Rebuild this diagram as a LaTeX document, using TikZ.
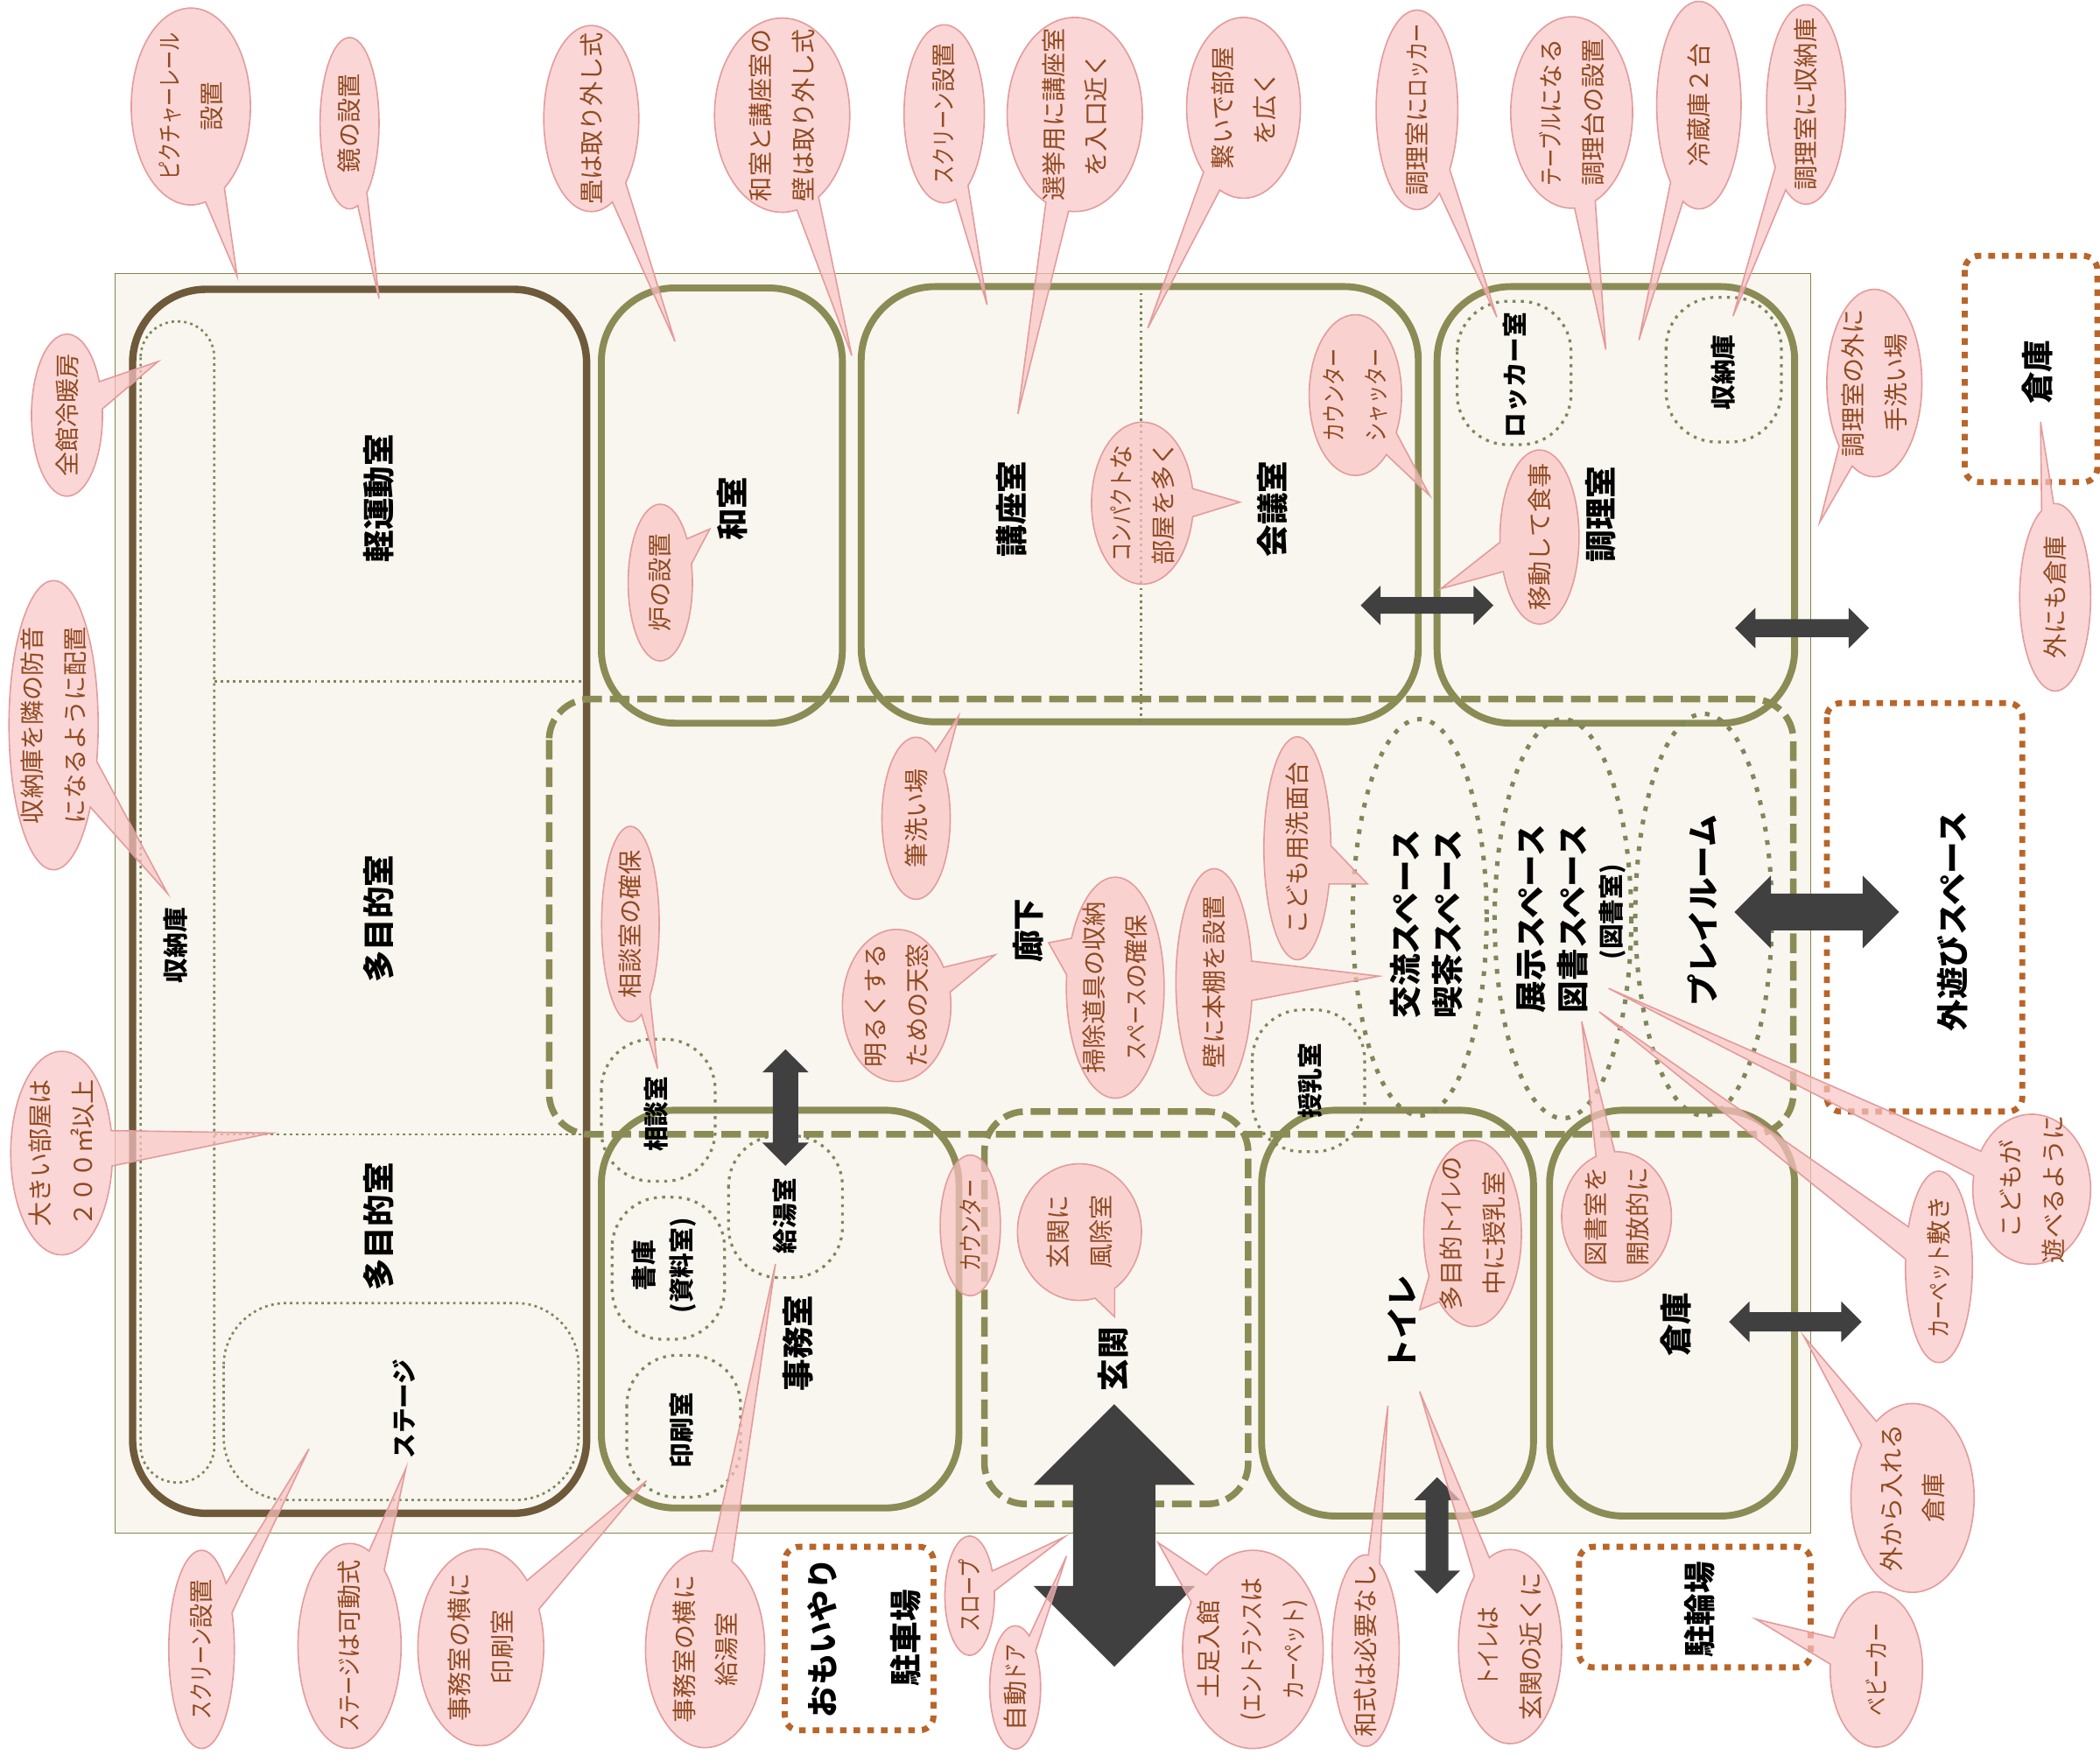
\documentclass[tikz,border=0pt]{standalone}
\usepackage{fontspec}
\setmainfont{Noto Sans CJK JP}
\newfontfamily\narrowfont{Noto Sans CJK JP}[FakeStretch=0.75]
\newcommand{\hw}[1]{{\narrowfont #1}}
\usetikzlibrary{shapes.geometric}
\usetikzlibrary{shapes.arrows}
\usetikzlibrary{shapes.callouts}

\definecolor{olive}{HTML}{8B8B55}
\definecolor{wallbrown}{HTML}{6E5A3A}
\definecolor{floorfill}{HTML}{F9F6EF}
\definecolor{floorline}{HTML}{85854A}
\definecolor{outerline}{HTML}{B9652A}
\definecolor{dotline}{HTML}{7E8858}
\definecolor{arrowgray}{HTML}{404040}
\definecolor{notefill}{HTML}{FAC4C4}
\definecolor{noteline}{HTML}{E39C9C}
\definecolor{notetextcolor}{HTML}{8F4A1F}

\tikzset{
    room/.style={draw=olive, line width=4.4pt, rounded corners=47pt},
    hall/.style={draw=olive, line width=4.2pt, rounded corners=26pt, dash pattern=on 12.5pt off 5pt},
    subroom/.style={draw=dotline, line width=1.8pt, rounded corners=32pt, dash pattern=on 1.9pt off 3.4pt},
    fineline/.style={draw=dotline, line width=1.5pt, dash pattern=on 1.6pt off 2.4pt},
    oval/.style={draw=dotline, line width=2.8pt, dash pattern=on 3pt off 5.6pt},
    outside/.style={draw=outerline, line width=3.8pt, rounded corners=9pt, dash pattern=on 4.2pt off 4.5pt},
    bigname/.style={rotate=90, align=center, inner sep=0pt, font=\fontsize{20.4}{27}\selectfont\bfseries},
    smallname/.style={rotate=90, align=center, inner sep=0pt, font=\fontsize{16}{24}\selectfont\bfseries},
    notebody/.style={fill=notefill, fill opacity=0.7, draw=noteline, line width=0.9pt, inner sep=0pt, outer sep=0pt},
    notetext/.style={rotate=90, align=center, inner sep=0pt, text=notetextcolor, font=\fontsize{15.7}{27}\selectfont},
    movearrow/.style={double arrow, double arrow tip angle=90, fill=arrowgray, draw=none, inner xsep=0pt, outer sep=0pt},
}

\begin{document}
\begin{tikzpicture}[x=0.03cm, y=-0.03cm]
    \useasboundingbox (0,0) rectangle (1568,1315.7);

    \draw[fill=floorfill, draw=floorline, line width=0.7pt] (86,204) rectangle (1352,1145);

    \draw[room, draw=wallbrown, line width=4.7pt] (99,216) rectangle (438,1130);
    \draw[fineline, rounded corners=23pt] (105,240) rectangle (160,1107);
    \draw[fineline] (160,509) -- (435,509);
    \draw[fineline] (160,847) -- (435,847);
    \draw[fineline, rounded corners=40pt] (167,973) rectangle (432,1120);

    \foreach \xa/\ya/\xb/\yb in {449/215/629/540, 643/214/1059/539, 1073/214/1340/540, 449/829/716/1126, 942/829/1145/1132, 1157/829/1340/1132}{
        \draw[room] (\xa,\ya) rectangle (\xb,\yb);
    }
    \draw[fineline] (852,214) -- (852,540);

    \draw[hall] (410,522) rectangle (1339,847);
    \draw[hall] (735,830) rectangle (932,1123);

    \foreach \xa/\ya/\xb/\yb in {1088/225/1173/332, 1244/222/1330/330, 449/776/534/882, 935/754/1019/860, 457/894/541/1000, 544/848/629/954, 468/1012/553/1118}{
        \draw[subroom] (\xa,\ya) rectangle (\xb,\yb);
    }

    \foreach \cx/\cy/\rx/\ry in {1060/685/50/148, 1167/686/51/149, 1272/683/51/150}{
        \draw[oval] (\cx,\cy) ellipse [x radius=\rx, y radius=\ry];
    }

    \foreach \xa/\ya/\xb/\yb in {1467/191/1566/360, 1364/525/1510/830, 586/1155/697/1292, 1179/1155/1352/1245}{
        \draw[outside] (\xa,\ya) rectangle (\xb,\yb);
    }

    \foreach \nm/\cx/\cy/\len/\headw/\shaft/\rot in {
        cook/1065.5/452/99/14.5/12/0,
        back/1345.5/469/100/15/13/0,
        play/1356.5/681/123/27/27/0,
        office/586.5/827/87/17/18.5/90,
        entry/832/1146.5/196/60/61/90,
        wc/1073/1146.5/87/17/16.5/90,
        store/1340.5/987/99/15/14/0}{
        \draw (\cx,\cy) node[movearrow, rotate=\rot, minimum height=\len*0.03cm, inner ysep=\shaft/2*0.03cm, double arrow head extend=(\headw-\shaft/2)*0.03cm] (arrow\nm) {};
    }

    \foreach \nm/\cx/\cy/\txt in {
        gym/283/372/軽運動室,
        multia/283/686/多目的室,
        multib/283/916/多目的室,
        japanese/547/380/和室,
        lecture/755/380/講座室,
        meeting/950/380/会議室,
        cooking/1195/384/調理室,
        corridor/768/695/廊下,
        cafe/1065/690/{交流スペース\\喫茶スペース},
        show/1159/686/{展示スペース\\図書スペース},
        playroom/1271/680/プレイルーム,
        yard/1458/688/外遊びスペース,
        shed/1521/278/倉庫,
        office/596/1003/事務室,
        hall/831/1015/玄関,
        toilet/1047/988/トイレ,
        storage/1251/989/倉庫,
        parking/645/1223/{おもいやり\\[26pt]駐車場},
        bicycle/1269/1202/駐輪場}{
        \draw (\cx,\cy) node[bigname] (name\nm) {\txt};
    }

    \foreach \nm/\cx/\cy/\txt in {
        locker/1131/280/ロッカー室,
        closet/1287/278/収納庫,
        column/131/706/収納庫,
        stage/302/1052/ステージ,
        library/1204/681/(図書室),
        consult/490/832/相談室,
        kitchen/586/908/給湯室,
        books/496/945/{書庫\\(資料室)},
        printer/509/1068/印刷室,
        nursing/978/807/授乳室}{
        \draw (\cx,\cy) node[smallname] (name\nm) {\txt};
    }

    \foreach \nm/\cx/\cy/\nw/\nh/\px/\py/\txt in {
        rail/142.5/79.5/89/147/177/206/{\hw{ピクチャーレール}\\設置},
        mirror/261/92/44/128/283/223/鏡の設置,
        tatami/441.5/88.5/71/139/504/255/畳は取り外し式,
        aircon/50/310/53/121/118/270/全館冷暖房,
        hearth/493/435/48/117/530/395/炉の設置,
        wall/584/86/101/145/636/265.5/{和室と講座室の\\壁は取り外し式},
        screena/705/85/60/133/737/227.6/{\hw{スクリーン}設置},
        vote/802.5/85.5/101/145/760/309/{選挙用に講座室\\を入口近く},
        join/928.5/80.5/85/135/857/245/{繋いで部屋\\を広く},
        compact/853/375.7/76/121/925.7/375/{\hw{コンパクト}な\\部屋を多く},
        counter/1012/295/69/120/1067.5/370/{\hw{カウンター}\\\hw{シャッター}},
        lockers/1058/82/61/149/1117.6/236.8/{調理室に\hw{ロッカー}},
        table/1173.5/84/91/143/1199/261/{\hw{テーブル}になる\\調理台の設置},
        fridge/1268.5/78.5/63/155/1223.7/254/冷蔵庫２台,
        closets/1348.5/78/59/149/1294/236/調理室に収納庫,
        dine/1149.5/401/59/130/1076/439.5/移動して食事,
        wash/1399.5/286/71/140/1358.7/390/{調理室の外に\\手洗い場},
        shed/1534.5/446/53/140/1523.6/315/外にも倉庫,
        sound/40/541.5/66.6/216/125/667/{収納庫を隣の防音\\になるように配置},
        consult/470.7/690/43/146/491/798/相談室の確保,
        large/46/861/76/152/202.7/846/{大きい部屋は\\２００㎡以上},
        brush/684/611/51/121/715.7/534.8/筆洗い場,
        skylight/669.5/750.8/81/113.6/743/713/{明るくする\\ための天窓},
        broom/832.7/737.5/73/165/783/704/{掃除道具の収納\\\hw{スペース}の確保},
        shelf/906.5/733.4/57/169.5/1029.7/728.9/壁に本棚を設置,
        basin/968.7/633.4/50/166.5/1021/660/こども用洗面台,
        porch/806/920/92.6/102/832.3/983.3/{玄関に\\風除室},
        nursing/1099.5/921/73/139/1060/978/{多目的\hw{トイレ}の\\中に授乳室},
        open/1207/908.5/82/97/1181/762.8/{図書室を\\開放的に},
        carpet/1447.7/946/50/143/1194/755.5/{\hw{カーペット}敷き},
        kids/1517/888/88/112/1201/738/{こどもが\\遊べるように},
        store/1428/1118.5/92/141/1347/998/{外から入れる\\倉庫},
        stroller/1401/1246.6/69/116/1311/1209/\hw{ベビーカー},
        toilet/1127.5/1229.5/77/145/1060/1039/{\hw{トイレ}は\\玄関の近くに},
        style/1019.7/1232.5/50/143/1036.3/1049.6/和式は必要なし,
        shoes/935.5/1231.6/105/148/864.7/1151.9/{土足入館\\(\hw{エントランス}は\\\hw{カーペット})},
        door/758/1260/38/92/796.3/1162/{自動\hw{ドア}},
        slope/724/1191.5/37/89/794.7/1147.7/\hw{スロープ},
        kitchen/526.5/1231.5/89/147/579/943.8/{事務室の横に\\給湯室},
        printer/359/1230/94/147/482.7/1105.7/{事務室の横に\\印刷室},
        stage/261/1229/77/153/303/1096.6/{\hw{ステージ}は可動式},
        screenb/150.5/1231.6/49/148/230.7/1081.9/{\hw{スクリーン}設置}}{
        \draw (\cx,\cy) node[ellipse callout, notebody, callout pointer arc=20, minimum width=\nw*0.03cm, minimum height=\nh*0.03cm, callout absolute pointer={(\px,\py)}] (note\nm) {};
        \draw (\cx,\cy) node[notetext] (text\nm) {\txt};
    }
    \draw (724.5,915) node[ellipse, notebody, minimum width=45*0.03cm, minimum height=105*0.03cm] (notedesk) {};
    \draw (724.5,915) node[notetext] (textdesk) {\hw{カウンター}};

\end{tikzpicture}
\end{document}
